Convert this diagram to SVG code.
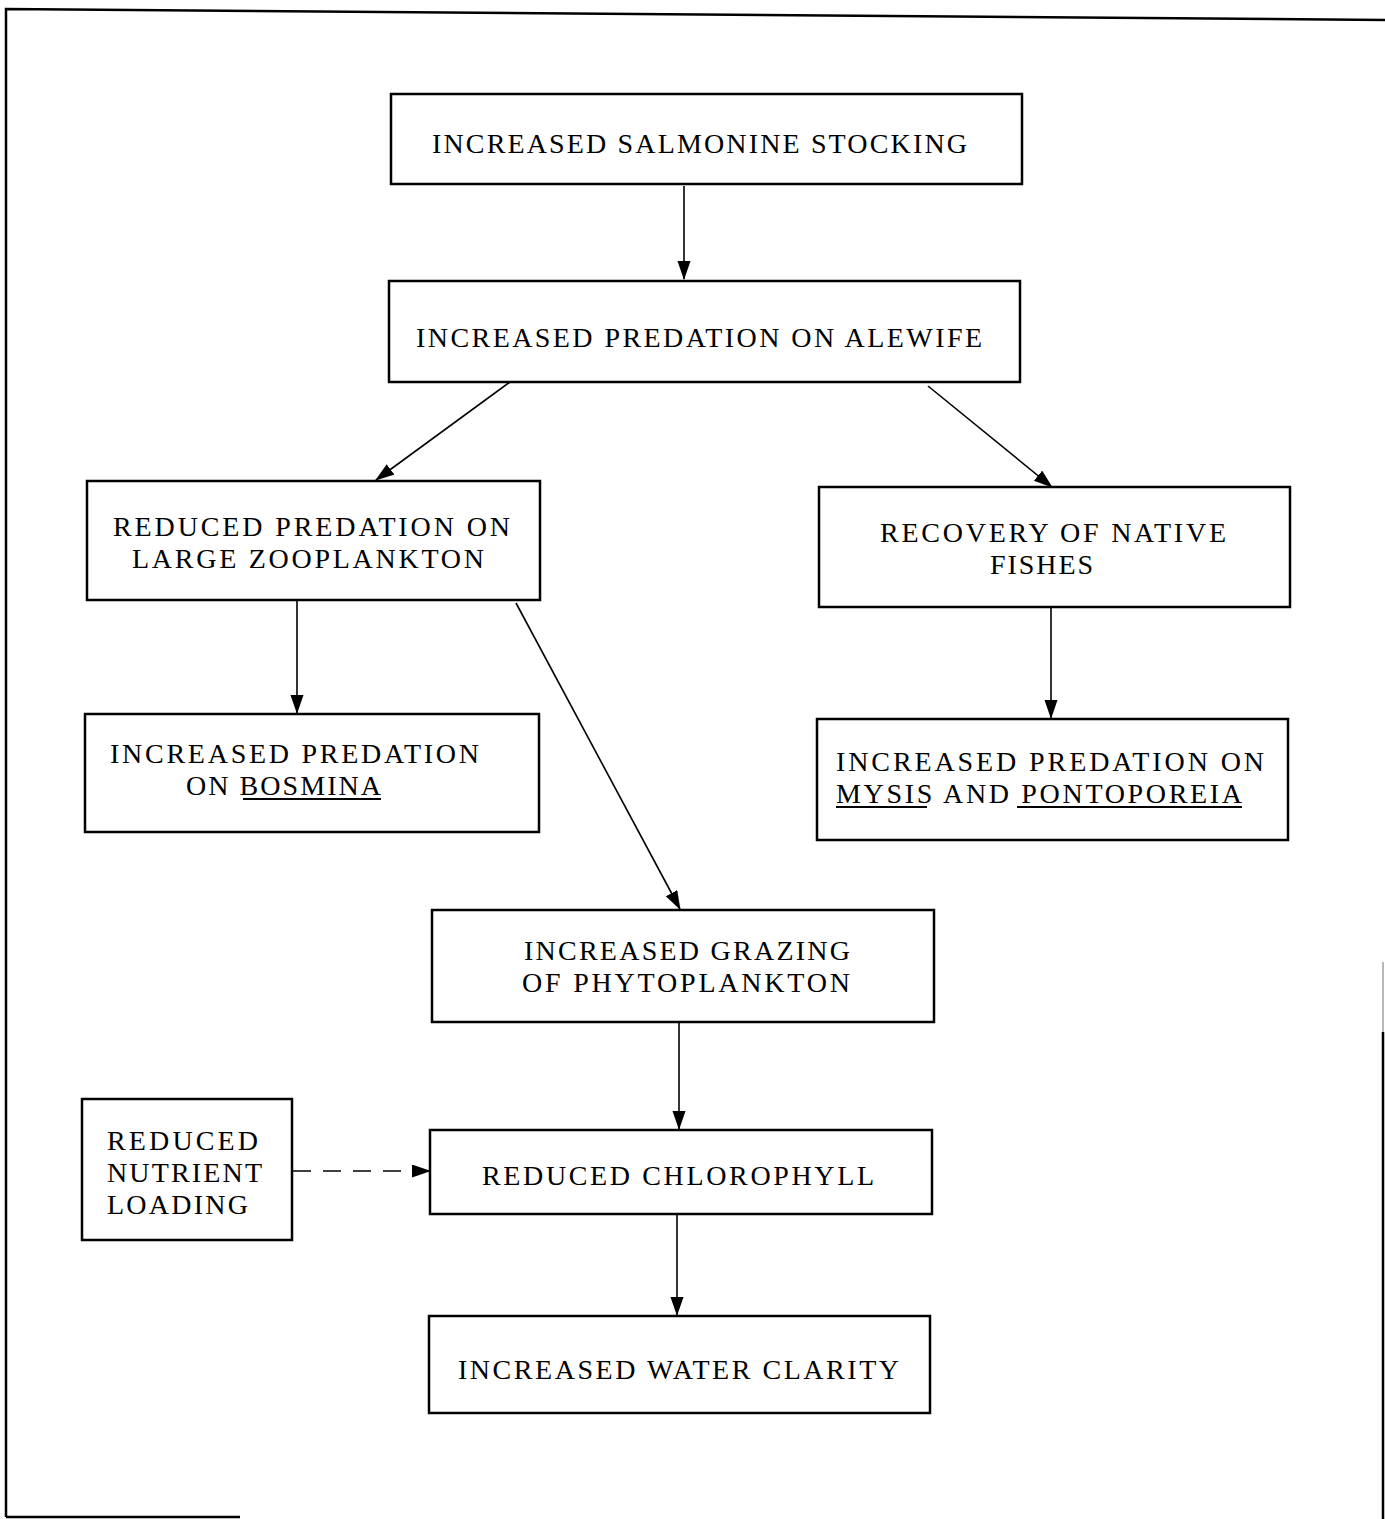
<svg xmlns="http://www.w3.org/2000/svg" width="1385" height="1519" viewBox="0 0 1385 1519">
<style>
.box{fill:#fff;stroke:#000;stroke-width:2.5}
.t{font-family:"Liberation Serif","Times New Roman",serif;font-size:28px;fill:#000}
.c{stroke:#000;stroke-width:1.6;fill:none}
.u{stroke:#000;stroke-width:1.8}
.frame{stroke:#000;stroke-width:2.5;fill:none}
</style>
<defs>
<marker id="ah" markerUnits="userSpaceOnUse" markerWidth="20" markerHeight="14" refX="18" refY="6.5" orient="auto">
<path d="M0,0 L19,6.5 L0,13 z" fill="#000"/>
</marker>
</defs>
<rect width="1385" height="1519" fill="#fff"/>
<g id="frame">
<path class="frame" d="M6,1517 L6,9 L1385,20"/>
<path class="frame" d="M1383,1032 L1383,1519"/>
<path d="M1383,962 L1383,1032" stroke="#888" stroke-width="1.2"/>
<path class="frame" d="M6,1517 L240,1517"/>
</g>
<g id="connectors">
<line class="c" x1="684" y1="186" x2="684" y2="279" marker-end="url(#ah)"/>
<line class="c" x1="510" y1="382" x2="376" y2="480" marker-end="url(#ah)"/>
<line class="c" x1="928" y1="386" x2="1052" y2="487" marker-end="url(#ah)"/>
<line class="c" x1="297" y1="600" x2="297" y2="713" marker-end="url(#ah)"/>
<line class="c" x1="1051" y1="607" x2="1051" y2="718" marker-end="url(#ah)"/>
<line class="c" x1="516" y1="603" x2="680" y2="909" marker-end="url(#ah)"/>
<line class="c" x1="679" y1="1022" x2="679" y2="1129" marker-end="url(#ah)"/>
<line class="c" x1="677" y1="1214" x2="677" y2="1315" marker-end="url(#ah)"/>
<line class="c" x1="293" y1="1171" x2="430" y2="1171" stroke-dasharray="18,12" marker-end="url(#ah)"/>
</g>
<g id="n1">
<rect class="box" x="391" y="94" width="631" height="90"/>
<text class="t" x="432" y="153" textLength="535" lengthAdjust="spacing">INCREASED SALMONINE STOCKING</text>
</g>
<g id="n2">
<rect class="box" x="389" y="281" width="631" height="101"/>
<text class="t" x="416" y="347" textLength="566" lengthAdjust="spacing">INCREASED PREDATION ON ALEWIFE</text>
</g>
<g id="n3">
<rect class="box" x="87" y="481" width="453" height="119"/>
<text class="t" x="113" y="536" textLength="397" lengthAdjust="spacing">REDUCED PREDATION ON</text>
<text class="t" x="132" y="568" textLength="352" lengthAdjust="spacing">LARGE ZOOPLANKTON</text>
</g>
<g id="n4">
<rect class="box" x="819" y="487" width="471" height="120"/>
<text class="t" x="880" y="542" textLength="346" lengthAdjust="spacing">RECOVERY OF NATIVE</text>
<text class="t" x="990" y="574" textLength="103" lengthAdjust="spacing">FISHES</text>
</g>
<g id="n5">
<rect class="box" x="85" y="714" width="454" height="118"/>
<text class="t" x="110" y="763" textLength="369" lengthAdjust="spacing">INCREASED PREDATION</text>
<text class="t" x="186" y="795" textLength="195" lengthAdjust="spacing">ON BOSMINA</text>
<line class="u" x1="243" y1="799" x2="381" y2="799"/>
</g>
<g id="n6">
<rect class="box" x="817" y="719" width="471" height="121"/>
<text class="t" x="836" y="771" textLength="428" lengthAdjust="spacing">INCREASED PREDATION ON</text>
<text class="t" x="836" y="803" textLength="406" lengthAdjust="spacing">MYSIS AND PONTOPOREIA</text>
<line class="u" x1="836" y1="807" x2="927" y2="807"/>
<line class="u" x1="1017" y1="807" x2="1242" y2="807"/>
</g>
<g id="n7">
<rect class="box" x="432" y="910" width="502" height="112"/>
<text class="t" x="524" y="960" textLength="326" lengthAdjust="spacing">INCREASED GRAZING</text>
<text class="t" x="522" y="992" textLength="328" lengthAdjust="spacing">OF PHYTOPLANKTON</text>
</g>
<g id="n8">
<rect class="box" x="430" y="1130" width="502" height="84"/>
<text class="t" x="482" y="1185" textLength="392" lengthAdjust="spacing">REDUCED CHLOROPHYLL</text>
</g>
<g id="n9">
<rect class="box" x="429" y="1316" width="501" height="97"/>
<text class="t" x="458" y="1379" textLength="441" lengthAdjust="spacing">INCREASED WATER CLARITY</text>
</g>
<g id="n10">
<rect class="box" x="82" y="1099" width="210" height="141"/>
<text class="t" x="107" y="1150" textLength="151" lengthAdjust="spacing">REDUCED</text>
<text class="t" x="107" y="1182" textLength="155" lengthAdjust="spacing">NUTRIENT</text>
<text class="t" x="107" y="1214" textLength="141" lengthAdjust="spacing">LOADING</text>
</g>
</svg>
